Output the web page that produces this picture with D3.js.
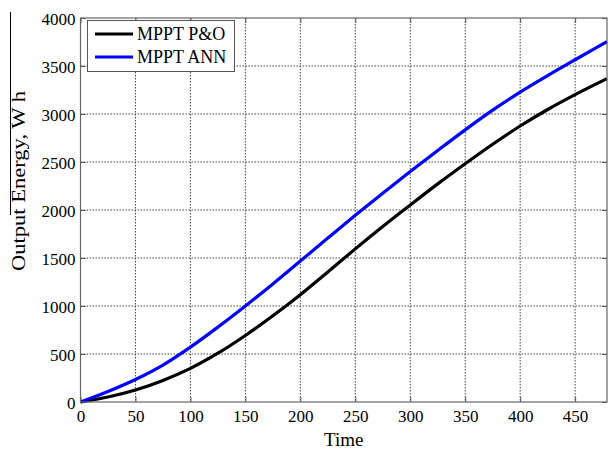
<!DOCTYPE html>
<html>
<head>
<meta charset="utf-8">
<script src="https://cdn.jsdelivr.net/npm/d3@7"></script>
<style>
body { margin: 0; background: #fff; }
svg { display: block; }
</style>
</head>
<body>
<div id="chart"></div>
<script>
// data
var time = [0, 25, 50, 75, 100, 125, 150, 175, 200, 225, 250, 275, 300, 325, 350, 375, 400, 425, 450, 479];
var energyPO = [0, 52, 125, 225, 350, 508, 693, 898, 1118, 1355, 1595, 1828, 2052, 2272, 2482, 2685, 2875, 3047, 3202, 3368];
var energyANN = [0, 110, 235, 385, 572, 780, 1000, 1230, 1468, 1708, 1945, 2175, 2400, 2620, 2835, 3040, 3228, 3400, 3565, 3753];
var xTicks = [0, 50, 100, 150, 200, 250, 300, 350, 400, 450];
var yTicks = [0, 500, 1000, 1500, 2000, 2500, 3000, 3500, 4000];
var seriesNames = ["MPPT P&O", "MPPT ANN"];
var seriesColors = ["#000000", "#0000ff"];

var W = 608, H = 449;
var plotL = 80.5, plotR = 607, plotT = 18, plotB = 402;
var serif = "'Liberation Serif', 'Times New Roman', serif";

var svg = d3.select("#chart").append("svg")
	.attr("width", W).attr("height", H)
	.style("font-family", serif);

var x = d3.scaleLinear().domain([0, 479]).range([plotL, plotR]);
var y = d3.scaleLinear().domain([0, 4000]).range([plotB, plotT]);

// grid
var grid = svg.append("g");
grid.selectAll("line.gx").data(xTicks.slice(1)).enter().append("line")
	.attr("x1", function(d){ return x(d); }).attr("x2", function(d){ return x(d); })
	.attr("y1", plotT).attr("y2", plotB)
	.attr("stroke", "#444").attr("stroke-width", 1).attr("stroke-dasharray", "1.5,1.5");
grid.selectAll("line.gy").data(yTicks.slice(1, -1)).enter().append("line")
	.attr("y1", function(d){ return y(d); }).attr("y2", function(d){ return y(d); })
	.attr("x1", plotL).attr("x2", plotR)
	.attr("stroke", "#444").attr("stroke-width", 1).attr("stroke-dasharray", "1.5,1.5");

// axes (inward ticks, matlab style)
var xAxis = d3.axisBottom(x).tickValues(xTicks).tickSize(-5).tickFormat(d3.format("d"));
var yAxis = d3.axisLeft(y).tickValues(yTicks).tickSize(-5).tickFormat(d3.format("d"));

var gx = svg.append("g").attr("transform", "translate(0," + plotB + ")").call(xAxis);
var gy = svg.append("g").attr("transform", "translate(" + plotL + ",0)").call(yAxis);
[gx, gy].forEach(function(g){
	g.attr("font-family", serif).attr("font-size", 17);
	g.select(".domain").remove();
	g.selectAll(".tick line").attr("stroke", "#555");
	g.selectAll(".tick text")
		.attr("font-family", serif)
		.style("font-family", serif)
		.style("font-size", "17px")
		.attr("fill", "#000");
});
gx.selectAll(".tick text").attr("dy", "0.71em").attr("y", 8);
gy.selectAll(".tick text").attr("dy", "0.36em").attr("x", -5);

// ticks on top and right too
svg.append("g").attr("transform", "translate(0," + plotT + ")")
	.call(d3.axisTop(x).tickValues(xTicks).tickSize(-5).tickFormat(""))
	.call(function(g){ g.select(".domain").remove(); g.selectAll("line").attr("stroke", "#555"); });
svg.append("g").attr("transform", "translate(" + plotR + ",0)")
	.call(d3.axisRight(y).tickValues(yTicks).tickSize(-5).tickFormat(""))
	.call(function(g){ g.select(".domain").remove(); g.selectAll("line").attr("stroke", "#555"); });

// lines
var line = d3.line()
	.x(function(d){ return x(d[0]); })
	.y(function(d){ return y(d[1]); })
	.curve(d3.curveCatmullRom);

[energyPO, energyANN].forEach(function(vals, i){
	svg.append("path")
		.datum(time.map(function(t, j){ return [t, vals[j]]; }))
		.attr("d", line)
		.attr("fill", "none")
		.attr("stroke", seriesColors[i])
		.attr("stroke-width", 3.2)
		.attr("stroke-linejoin", "round");
});

// frame
svg.append("rect")
	.attr("x", plotL).attr("y", plotT)
	.attr("width", plotR - plotL).attr("height", plotB - plotT)
	.attr("fill", "none").attr("stroke", "#666").attr("stroke-width", 1.2);

// legend
var leg = svg.append("g");
leg.append("rect")
	.attr("x", 87.5).attr("y", 20.5).attr("width", 147).attr("height", 51)
	.attr("fill", "#fff").attr("stroke", "#555").attr("stroke-width", 1);
seriesNames.forEach(function(name, i){
	var ly = 34 + i * 23;
	leg.append("line")
		.attr("x1", 95).attr("x2", 133).attr("y1", ly).attr("y2", ly)
		.attr("stroke", seriesColors[i]).attr("stroke-width", 3.2);
	leg.append("text")
		.attr("x", 137).attr("y", ly + 6)
		.style("font-size", "18px")
		.text(name);
});

// axis titles
svg.append("text")
	.attr("x", (plotL + plotR) / 2).attr("y", 446)
	.attr("text-anchor", "middle")
	.style("font-size", "19px")
	.text("Time");

svg.append("text")
	.attr("transform", "translate(25,181) rotate(-90)")
	.attr("text-anchor", "middle")
	.attr("textLength", 180).attr("lengthAdjust", "spacingAndGlyphs")
	.style("font-size", "19px")
	.text("Output Energy, W h");

// stray rule next to the y title in the original
svg.append("line")
	.attr("x1", 10.5).attr("x2", 10.5).attr("y1", 12).attr("y2", 215)
	.attr("stroke", "#000").attr("stroke-width", 1);
</script>
</body>
</html>
